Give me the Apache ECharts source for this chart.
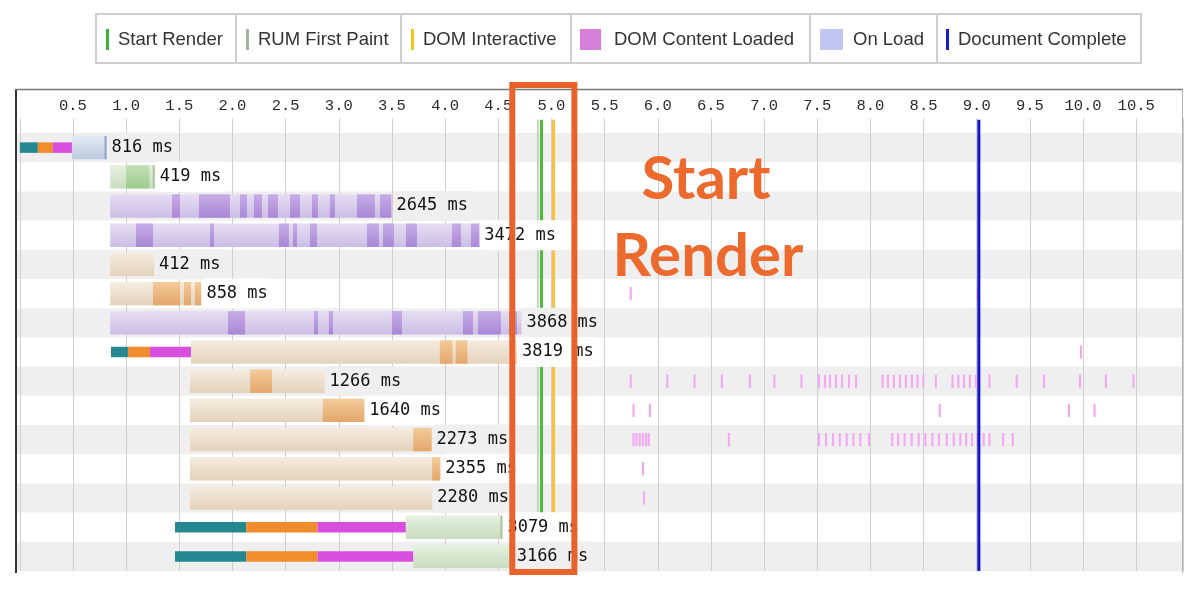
<!DOCTYPE html>
<html><head><meta charset="utf-8">
<script src="https://cdn.jsdelivr.net/npm/echarts@6/dist/echarts.min.js"></script>
<style>html,body{margin:0;padding:0;background:#fff}#c{width:1200px;height:592px}</style>
</head><body><div id="c"></div>
<script>
// ---------- data (seconds) ----------
const rowKinds = ['html','image','js','js','css','css','js','css','css','css','css','css','css','image','image'];
const requestStart = [0, 0.85, 0.85, 0.85, 0.85, 0.85, 0.85, 0.858, 1.6, 1.6, 1.6, 1.6, 1.6, 1.46, 1.46];
const durationsMs = [816, 419, 2645, 3472, 412, 858, 3868, 3819, 1266, 1640, 2273, 2355, 2280, 3079, 3166];
const contentStart = [0.49, 0.85, 0.85, 0.85, 0.85, 0.85, 0.85, 1.61, 1.6, 1.6, 1.6, 1.6, 1.6, 3.63, 3.70];
const dnsPhase = [[0, 0, 0.17], [7, 0.858, 1.017], [13, 1.46, 2.13], [14, 1.46, 2.13]];
const connectPhase = [[0, 0.17, 0.31], [7, 1.017, 1.224], [13, 2.13, 2.80], [14, 2.13, 2.80]];
const sslPhase = [[0, 0.31, 0.49], [7, 1.224, 1.61], [13, 2.80, 3.63], [14, 2.80, 3.70]];
const chunks = [
  [1, 1.0, 1.22],
  [2, 1.431, 1.507], [2, 1.685, 1.977], [2, 2.071, 2.137], [2, 2.202, 2.278], [2, 2.334, 2.428], [2, 2.541, 2.635], [2, 2.748, 2.804], [2, 2.916, 2.964], [2, 3.171, 3.340], [2, 3.387, 3.495],
  [3, 1.093, 1.253], [3, 1.789, 1.826], [3, 2.437, 2.531], [3, 2.569, 2.607], [3, 2.729, 2.795], [3, 3.265, 3.378], [3, 3.415, 3.519], [3, 3.632, 3.735], [3, 4.064, 4.149], [3, 4.243, 4.322],
  [5, 1.253, 1.507], [5, 1.544, 1.610], [5, 1.647, 1.704],
  [6, 1.958, 2.118], [6, 2.767, 2.804], [6, 2.907, 2.945], [6, 3.5, 3.594], [6, 4.168, 4.262], [6, 4.309, 4.525], [6, 4.6, 4.676],
  [7, 3.95, 4.07], [7, 4.1, 4.21],
  [8, 2.167, 2.372],
  [9, 2.85, 3.24],
  [10, 3.70, 3.873],
  [11, 3.878, 3.955]
];
const jsMarkTimes = [
  [5, [5.736, 9.0]],
  [7, [9.97]],
  [8, [5.736, 6.080, 6.336, 6.593, 6.856, 7.087, 7.342, 7.506, 7.563, 7.610, 7.666, 7.723, 7.789, 7.855, 8.104, 8.155, 8.211, 8.268, 8.324, 8.381, 8.433, 8.488, 8.606, 8.762, 8.817, 8.870, 8.926, 8.983, 9.110, 9.366, 9.622, 9.961, 10.205, 10.464]],
  [9, [5.762, 5.917, 8.642, 9.857, 10.098]],
  [10, [5.762, 5.79, 5.82, 5.85, 5.88, 5.905, 6.659, 7.507, 7.573, 7.639, 7.702, 7.767, 7.830, 7.895, 7.976, 8.195, 8.250, 8.312, 8.378, 8.444, 8.507, 8.573, 8.635, 8.708, 8.774, 8.836, 8.890, 8.946, 9.000, 9.055, 9.110, 9.238, 9.329]],
  [11, [5.851]],
  [12, [5.860]]
];
const eventNames = ['Start Render', 'RUM First Paint', 'DOM Interactive', 'DOM Content Loaded', 'On Load', 'Document Complete'];
const eventTimes = { 'RUM First Paint': 4.873, 'Start Render': 4.907, 'DOM Content Loaded': 5.008, 'DOM Interactive': 5.02, 'Document Complete': 9.02 };
const axisMax = 10.94;
const highlightRange = [4.632, 5.216];

// ---------- styling ----------
const G = echarts.graphic.LinearGradient;
const fills = {
  html: [new G(0,0,0,1,[{offset:0,color:'#e3eaf4'},{offset:1,color:'#bccbe0'}]), '#9fb4d6'],
  image: [new G(0,0,0,1,[{offset:0,color:'#e6f0e0'},{offset:1,color:'#c9ddbf'}]), new G(0,0,0,1,[{offset:0,color:'#c4e0b8'},{offset:1,color:'#9ccb8c'}])],
  js: [new G(0,0,0,1,[{offset:0,color:'#e6def2'},{offset:1,color:'#cbbde5'}]), new G(0,0,0,1,[{offset:0,color:'#c6ade6'},{offset:1,color:'#a887d6'}])],
  css: [new G(0,0,0,1,[{offset:0,color:'#f5ece0'},{offset:1,color:'#e4d2bb'}]), new G(0,0,0,1,[{offset:0,color:'#f3cb9b'},{offset:1,color:'#e3a66a'}])]
};
const edgeColors = { html: '#8ea6cc', image: '#a9c79b', js: null, css: null };
const eventStyle = {
  'RUM First Paint': ['#b3c8ae', 1.5],
  'Start Render': ['#4cba3c', 3],
  'DOM Content Loaded': ['#f2b6ee', 2],
  'DOM Interactive': ['#f4c535', 3],
  'Document Complete': ['#1414c8', 3]
};
const rowBg = i => (i % 2 === 0 ? '#efefef' : '#ffffff');

// ---------- derived series data ----------
const nRows = rowKinds.length;
const rowEnd = durationsMs.map((d, i) => requestStart[i] + d / 1000);
const stripeData = rowKinds.map((k, i) => [i]);
const mainData = rowKinds.map((k, i) => [i, contentStart[i], rowEnd[i]]);
const phaseData = [].concat(
  dnsPhase.map(p => [p[0], p[1], p[2], 0]),
  connectPhase.map(p => [p[0], p[1], p[2], 1]),
  sslPhase.map(p => [p[0], p[1], p[2], 2])
);
const phaseColors = ['#25878f', '#f08c2c', '#d84fdf'];
const markData = [];
jsMarkTimes.forEach(([r, ts]) => ts.forEach(t => markData.push([r, t])));
const labelData = rowKinds.map((k, i) => [i, rowEnd[i]]);
const eventData = Object.keys(eventTimes).map(n => [eventTimes[n], n]);

function rectBetween(api, s, e, row, frac) {
  const p0 = api.coord([s, row + 0.5]);
  const p1 = api.coord([e, row + 0.5]);
  const h = api.size([0, 1])[1] * frac;
  return { x: p0[0], y: p0[1] - h / 2, width: Math.max(p1[0] - p0[0], 1), height: h };
}

const chart = echarts.init(document.getElementById('c'), null, { renderer: 'canvas' });
chart.setOption({
  animation: false,
  backgroundColor: '#ffffff',
  grid: { left: 19.8, right: 17, top: 118.4, bottom: 21 },
  xAxis: {
    type: 'value', position: 'top', min: 0, max: axisMax, interval: 0.5,
    axisLine: { show: false }, axisTick: { show: false },
    axisLabel: {
      margin: 5, color: '#2a2a2a', fontFamily: 'Liberation Mono', fontSize: 15.5,
      formatter: v => (v === 0 ? '' : v.toFixed(1)), showMaxLabel: false
    },
    splitLine: { show: true, lineStyle: { color: '#cfcfcf', width: 1 } }
  },
  yAxis: { type: 'value', inverse: true, min: -0.5, max: nRows, show: false },
  series: [
    { // row stripes
      type: 'custom', z: -1, silent: true, data: stripeData,
      renderItem: (params, api) => {
        const i = api.value(0);
        if (i % 2 !== 0) return null;
        const top = api.coord([0, i])[1];
        const h = api.size([0, 1])[1];
        return { type: 'rect', shape: { x: params.coordSys.x - 3, y: top, width: params.coordSys.width + 3, height: h }, style: { fill: '#efefef' } };
      }
    },
    { // main bars
      type: 'custom', z: 2, silent: true, data: mainData,
      renderItem: (params, api) => {
        const i = api.value(0);
        const r = rectBetween(api, api.value(1), api.value(2), i, 0.8);
        const children = [{ type: 'rect', shape: r, style: { fill: fills[rowKinds[i]][0] } }];
        const ec = edgeColors[rowKinds[i]];
        if (ec) children.push({ type: 'rect', shape: { x: r.x + r.width - 2, y: r.y, width: 2, height: r.height }, style: { fill: ec } });
        return { type: 'group', children };
      }
    },
    { // darker chunks inside bars
      type: 'custom', z: 3, silent: true, data: chunks,
      renderItem: (params, api) => {
        const i = api.value(0);
        return { type: 'rect', shape: rectBetween(api, api.value(1), api.value(2), i, 0.8), style: { fill: fills[rowKinds[i]][1] } };
      }
    },
    { // connection phases
      type: 'custom', z: 3, silent: true, data: phaseData,
      renderItem: (params, api) => {
        return { type: 'rect', shape: rectBetween(api, api.value(1), api.value(2), api.value(0), 0.36), style: { fill: phaseColors[api.value(3)] } };
      }
    },
    { // js execution marks
      type: 'custom', z: 3, silent: true, data: markData,
      renderItem: (params, api) => {
        const t = api.value(1);
        return { type: 'rect', shape: rectBetween(api, t, t + 0.02, api.value(0), 0.45), style: { fill: '#f3a8f1' } };
      }
    },
    { // event lines
      type: 'custom', z: 4, silent: true, data: eventData, clip: false,
      renderItem: (params, api) => {
        const name = eventData[params.dataIndex][1];
        const st = eventStyle[name];
        const t = api.value(0);
        const a = api.coord([t, -0.45]), b = api.coord([t, nRows]);
        return { type: 'line', shape: { x1: a[0], y1: a[1], x2: b[0], y2: b[1] }, style: { stroke: st[0], lineWidth: st[1] } };
      }
    },
    { // duration labels
      type: 'custom', z: 6, silent: true, data: labelData,
      renderItem: (params, api) => {
        const i = api.value(0);
        const p = api.coord([api.value(1), i + 0.5]);
        return {
          type: 'text', x: p[0] + 3, y: p[1],
          style: {
            text: durationsMs[i] + ' ms', fontFamily: 'DejaVu Sans Mono', fontSize: 17, fill: '#111',
            align: 'left', verticalAlign: 'middle', lineHeight: 18,
            backgroundColor: rowBg(i), padding: [6, 3, 6, 2]
          }
        };
      }
    },
    { // highlight box
      type: 'custom', z: 10, silent: true, clip: false, data: [[highlightRange[0], highlightRange[1]]],
      renderItem: (params, api) => {
        const a = api.coord([api.value(0), -1.64]);
        const b = api.coord([api.value(1), nRows + 0.03]);
        return { type: 'rect', shape: { x: a[0], y: a[1], width: b[0] - a[0], height: b[1] - a[1] }, style: { fill: 'none', stroke: '#e9622b', lineWidth: 6 } };
      }
    }
  ],
  graphic: [
    // chart frame
    { type: 'line', z: 5, shape: { x1: 16, y1: 89, x2: 16, y2: 573 }, style: { stroke: '#333', lineWidth: 2 } },
    { type: 'line', z: 5, shape: { x1: 15, y1: 89.5, x2: 1183, y2: 89.5 }, style: { stroke: '#777', lineWidth: 1.5 } },
    { type: 'line', z: 5, shape: { x1: 1182.5, y1: 89, x2: 1182.5, y2: 573 }, style: { stroke: '#b0b0b0', lineWidth: 1 } },
    // legend
    ...[[96,236],[236,401],[401,571],[571,810],[810,937],[937,1141]].map(c => ({
      type: 'rect', z: 5, shape: { x: c[0], y: 14, width: c[1] - c[0], height: 49 }, style: { fill: '#fff', stroke: '#cfcfcf', lineWidth: 2 }
    })),
    { type: 'rect', z: 6, shape: { x: 106, y: 29, width: 3, height: 21 }, style: { fill: '#3cb43c' } },
    { type: 'rect', z: 6, shape: { x: 246, y: 29, width: 3, height: 21 }, style: { fill: '#9fb89a' } },
    { type: 'rect', z: 6, shape: { x: 411, y: 29, width: 3, height: 21 }, style: { fill: '#f2c521' } },
    { type: 'rect', z: 6, shape: { x: 580, y: 29, width: 21, height: 21 }, style: { fill: '#d57fd9' } },
    { type: 'rect', z: 6, shape: { x: 820, y: 29, width: 23, height: 21 }, style: { fill: '#c3c6f3' } },
    { type: 'rect', z: 6, shape: { x: 946, y: 29, width: 3, height: 21 }, style: { fill: '#1a1ac8' } },
    ...[[118,0],[258,1],[423,2],[614,3],[853,4],[958,5]].map(t => ({
      type: 'text', z: 6, x: t[0], y: 39.5,
      style: { text: eventNames[t[1]], fontFamily: 'Liberation Sans', fontSize: 18.5, fill: '#333', verticalAlign: 'middle' }
    })),
    // annotation text
    { type: 'text', z: 11, x: 706, y: 180, style: { text: 'Start', fontFamily: 'Lato', fontWeight: 'bold', fontSize: 60, fill: '#ec6a2d', align: 'center', verticalAlign: 'middle' } },
    { type: 'text', z: 11, x: 708, y: 257, style: { text: 'Render', fontFamily: 'Lato', fontWeight: 'bold', fontSize: 60, fill: '#ec6a2d', align: 'center', verticalAlign: 'middle' } }
  ]
});
</script>
</body></html>
